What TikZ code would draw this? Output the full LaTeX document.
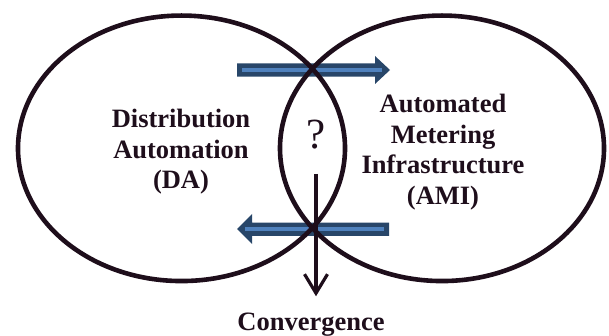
\documentclass[tikz,border=0pt]{standalone}
\usepackage{fontspec}
\setmainfont{Liberation Serif}
\usetikzlibrary{shapes.geometric,arrows.meta}

\definecolor{inkdark}{HTML}{1E0E1B}
\definecolor{arrowdark}{HTML}{284669}
\definecolor{arrowlight}{HTML}{4F81BD}

\tikzset{
  ring/.style={ellipse, draw=inkdark, line width=4.6pt, inner sep=0pt, outer sep=0pt},
  label/.style={text=inkdark, align=center, inner sep=0pt,
    font=\bfseries\fontsize{26.5}{30.5}\selectfont},
  flowbody/.style={fill=arrowdark},
  flowstripe/.style={draw=arrowlight, line width=4.4pt},
}

\begin{document}
\begin{tikzpicture}[x=1pt, y=-1pt]
\useasboundingbox (0,0) rectangle (609,336);

% two block arrows crossing the overlap (drawn beneath the rings)
\fill[flowbody] (237,63.3) -- (375,63.3) -- (375,56) -- (390,70)
  -- (375,84) -- (375,76.7) -- (237,76.7) -- cycle;
\draw[flowstripe] (242,70) -- (382,70);

\fill[flowbody] (389,222.7) -- (252,222.7) -- (252,214) -- (237,229)
  -- (252,244) -- (252,236) -- (389,236) -- cycle;
\draw[flowstripe] (384,229.3) -- (245,229.3);

% the two domains
\node[ring, minimum width=327pt, minimum height=265.5pt] (da) at (181.5,148.3) {};
\node[ring, minimum width=324pt, minimum height=265.5pt] (ami) at (442,148.3) {};

\node[label] (datext) at (181,152) {Distribution\\Automation\\(DA)};
\node[label] (amitext) at (443,152) {Automated\\Metering\\Infrastructure\\(AMI)};

\node[text=inkdark, inner sep=0pt, font=\fontsize{43}{43}\selectfont] (qmark) at (316,135) {?};

\node[label, anchor=base] (conv) at (311,330) {Convergence};

% downward arrow to the result
\coordinate (vstart) at (316,174);
\draw[inkdark, line width=3.6pt,
      -{Straight Barb[length=19pt, width=23pt, line width=3.2pt]}]
  (vstart) -- ([yshift=16pt]vstart |- conv.north);
\end{tikzpicture}
\end{document}
